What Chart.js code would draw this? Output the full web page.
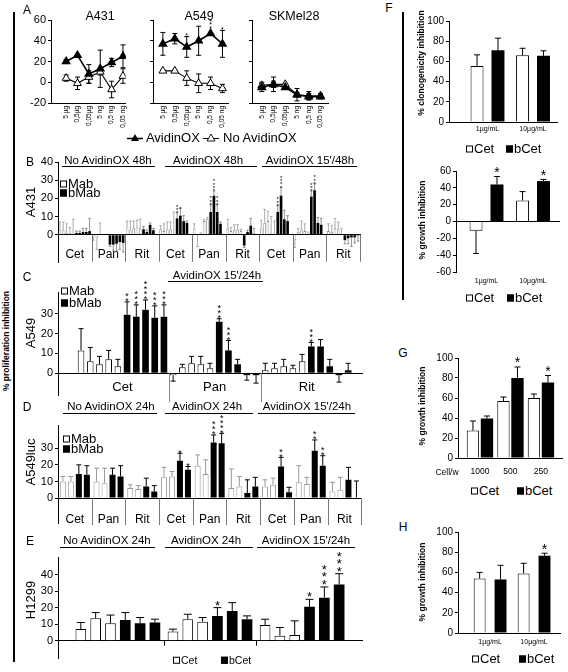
<!DOCTYPE html>
<html><head><meta charset="utf-8">
<script src="https://cdn.jsdelivr.net/npm/chart.js@4.4.1/dist/chart.umd.min.js"></script>
<style>
html,body{margin:0;padding:0;background:#fff;}
#root{position:relative;width:568px;height:672px;overflow:hidden;font-family:"Liberation Sans",Arial,sans-serif;color:#000;background:#fff;}
canvas{position:absolute;}
.t{position:absolute;white-space:nowrap;line-height:1;}
.ln{position:absolute;background:#000;}
.bx{display:inline-block;width:7px;height:7px;border:1px solid #000;background:#fff;box-sizing:border-box;margin-right:1px;}
.bx.k{background:#000;}
</style></head><body><div id="root"></div>
<script>
// ---------------- DATA ----------------
// Panel A
const A_doses = ['5 µg','0,5µg','0,05µg','5 ng','0,5 ng','0,05 ng'];
const A_titles = ['A431','A549','SKMel28'];
const A431_avi = [20, 26, 8, 13, 19, 25];
const A431_aviErr = [2, 1, 9, 18, 4, 11];
const A431_no = [4, -1, 5, 10, -7, 6];
const A431_noErr = [3, 6, 6, 3, 8, 7];
const A549_avi = [37, 42, 34, 40, 47, 37];
const A549_aviErr = [11, 5, 10, 14, 1, 13];
const A549_aviStars = [0, 0, 1, 0, 4, 1];
const A549_no = [11, 11, 4, -1, -1, -6];
const A549_noErr = [1, 1, 7, 9, 6, 4];
const SK_avi = [-5, -2, -5, -12, -14, -14];
const SK_aviErr = [4, 7, 1, 6, 3, 2];
const SK_no = [-3, -2, -2, -12, -13, -13];
const SK_noErr = [3, 3, 1, 2, 4, 2];

// Panel B (A431, 48h) : 9 groups x (5 Mab + 5 bMab)
const B_heads = ['No AvidinOX 48h', 'AvidinOX 48h', "AvidinOX 15'/48h"];
const B_cats = ['Cet','Pan','Rit','Cet','Pan','Rit','Cet','Pan','Rit'];
const B_mab = [[2.5,2.5,1,1,0.5],[-1,-2,0.5,0.2,0.2],[4,2.5,3.5,4,3.5],[3,2,3,3,0.5],[3,-0.5,0.5,7.5,8.5],[3.5,2,2.5,3,2],[4,6.5,7.5,1,0.5],[-3,1.5,2.5,2,0.5],[2,1.5,3.5,3,0.5]];
const B_mabErr = [[4.5,4.5,5,3,8],[2,6,6,0,0],[3.5,5,4,4,5],[2,4,4,4,12],[3,6,0.5,1,1],[5,2,3,2.5,1],[4,7.5,5.5,9,7],[4,2,5,4,1],[4,3.5,5.5,4,3]];
const B_bmab = [[1,1,1.5,1.5,2],[-5.5,-5.5,-5,-4,-4.5],[3,1.5,5.5,2.5,null],[9,10.5,7.5,6.5,null],[12.5,21.5,12.5,6,null],[-6,1.5,5,0.5,null],[12.5,21.5,8.5,7.5,null],[21,24.5,6.5,5.5,null],[-3,-2,-1.5,-1.5,-0.5]];
const B_bmabErr = [[1,1,2,2,7],[1,3,4,4,5],[1.5,1,1,1,0],[3,4,3,1,0],[4,2.5,4,1,0],[1,1,4,3,0],[3.5,4.5,5,3,0],[3,3.5,3,3.5,0],[2,3,5,3,3]];
const B_bmabStars = [[0,0,0,0,0],[0,0,0,0,0],[0,0,0,0,0],[3,1,0,0,0],[3,4,3,0,0],[0,0,0,0,0],[3,4,0,0,0],[3,3,0,0,0],[0,0,0,0,0]];

// Panel C (A549, AvidinOX 15'/24h)
const C_head = "AvidinOX 15'/24h";
const C_groups = ['Cet','Pan','Rit'];
const C_mab = [[11.5,6,4.5,7,3.5],[-1,3,5,4.5,2.5],[1.5,2.5,3.5,2.5,6]];
const C_mabErr = [[11,7,4,4.5,3.5],[3,1.5,3.5,4,2.5],[3.5,2.5,3.5,1.5,3.5]];
const C_bmab = [[29.5,28.5,32,28,28.5],[26,11.5,4.5,-1,-1],[13.5,13.5,3.5,-1,1.5]];
const C_bmabErr = [[6.5,6,5,6,6],[1.5,5,2.5,2.5,4],[2,3.5,3.5,3.5,3.5]];
const C_bmabStars = [[2,3,4,3,3],[3,3,0,0,0],[3,0,0,0,0]];

// Panel D (A549luc, 24h) : 9 groups x (2 Mab + 2 bMab)
const D_heads = ['No AvidinOX 24h', 'AvidinOX 24h', "AvidinOX 15'/24h"];
const D_cats = ['Cet','Pan','Rit','Cet','Pan','Rit','Cet','Pan','Rit'];
const D_mab = [[10,10],[10,9],[6,5.5],[12.5,13],[19.5,14.5],[6,7],[7,8],[9.5,8.5],[4,5]];
const D_mabErr = [[3,3],[8,9],[2,2],[6,3],[6.5,8.5],[11.5,6],[4,4],[10,4],[5.5,7.5]];
const D_bmab = [[14.5,14],[14,13],[7,4],[22.5,17],[33.5,33],[3,7],[19,3.5],[28.5,19.5],[11,0.3]];
const D_bmabErr = [[5.5,5.5],[4,6.5],[5,3.5],[4.5,2],[4.5,6],[8,5.5],[5.5,3],[6.5,6],[7.5,10]];
const D_bmabStars = [[0,0],[0,0],[0,0],[1,1],[3,4],[0,0],[2,0],[2,2],[0,0]];

// Panel E (H1299)
const E_heads = ['No AvidinOX 24h', 'AvidinOX 24h', "AvidinOX 15'/24h"];
const E_cet = [[7,13.5,10.5],[5.5,13,11.5],[9.5,3,3.5]];
const E_cetErr = [[4,3.5,5],[1.5,3,2.5],[3.5,5,8.5]];
const E_bcet = [[12.5,10.5,11],[15,18,13],[20.5,26,34]];
const E_bcetErr = [[4.5,3.5,2],[5,5,2],[4.5,6.5,6.5]];
const E_bcetStars = [[0,0,0],[1,0,0],[1,3,3]];

// Panel F
const F_conc = ['1µg/mL','10µg/mL'];
const F1_cet = [55.5, 66], F1_cetErr = [11, 7];
const F1_bcet = [71, 65.5], F1_bcetErr = [12, 5];
const F2_cet = [-11, 25], F2_cetErr = [27, 10.5];
const F2_bcet = [44, 48], F2_bcetErr = [9.5, 2], F2_bcetStars = [1, 1];
// Panel G
const G_cells = ['1000','500','250'];
const G_cet = [27.5, 57, 60], G_cetErr = [9.5, 4, 4];
const G_bcet = [39.5, 80, 75.5], G_bcetErr = [2.5, 11, 7], G_bcetStars = [0, 1, 1];
// Panel H
const H_conc = ['1µg/mL','10µg/mL'];
const H_cet = [54, 59], H_cetErr = [6, 10];
const H_bcet = [53, 76.5], H_bcetErr = [14, 2.5], H_bcetStars = [0, 1];

// ---------------- HELPERS ----------------
const FONT = '"Liberation Sans", Arial, sans-serif';
Chart.defaults.font.family = FONT;
Chart.defaults.color = '#000';
Chart.defaults.animation = false;
const root = document.getElementById('root');

function cv(L, T, W, H) {
  const c = document.createElement('canvas');
  c.width = W; c.height = H;
  c.style.left = L + 'px'; c.style.top = T + 'px';
  c.style.width = W + 'px'; c.style.height = H + 'px';
  root.appendChild(c); return c;
}
function T(html, x, y, o = {}) {
  const d = document.createElement('div');
  d.className = 't'; d.innerHTML = html;
  d.style.left = x + 'px'; d.style.top = y + 'px';
  d.style.fontSize = (o.size || 12) + 'px';
  if (o.bold) d.style.fontWeight = 'bold';
  const ax = o.anchor === 'left' ? '0' : '-50%';
  d.style.transform = 'translate(' + ax + ',-50%)' + (o.rot ? ' rotate(-90deg)' : '');
  root.appendChild(d); return d;
}
function LN(x, y, w, h, color) {
  const d = document.createElement('div');
  d.className = 'ln';
  d.style.left = x + 'px'; d.style.top = y + 'px'; d.style.width = w + 'px'; d.style.height = h + 'px';
  if (color) d.style.background = color;
  root.appendChild(d);
}

const errPlugin = {
  id: 'errbars',
  beforeDatasetsDraw(chart, a, o) { if (o.before) drawErr(chart, o); },
  afterDatasetsDraw(chart, a, o) { if (!o.before) drawErr(chart, o); drawStars(chart, o); }
};
function val(d) { return (d !== null && typeof d === 'object') ? d.y : d; }
function drawErr(chart, o) {
  const ctx = chart.ctx, ys = chart.scales.y;
  chart.data.datasets.forEach((ds, di) => {
    if (!ds.errors) return;
    const meta = chart.getDatasetMeta(di);
    ctx.save();
    ctx.strokeStyle = ds.errColor || '#000';
    ctx.lineWidth = o.lw || 1;
    meta.data.forEach((el, i) => {
      const v = val(ds.data[i]); const e = ds.errors[i];
      if (v == null || !e) return;
      const x = el.x, p0 = ys.getPixelForValue(v);
      const ends = ds.errBoth ? [v + e, v - e] : [v < 0 ? v - e : v + e];
      ends.forEach(t => {
        const p = ys.getPixelForValue(t);
        ctx.beginPath();
        ctx.moveTo(x, p0); ctx.lineTo(x, p);
        ctx.moveTo(x - o.cap, p); ctx.lineTo(x + o.cap, p);
        ctx.stroke();
      });
    });
    ctx.restore();
  });
}
function drawStars(chart, o) {
  const ctx = chart.ctx, ys = chart.scales.y;
  chart.data.datasets.forEach((ds, di) => {
    if (!ds.stars) return;
    const meta = chart.getDatasetMeta(di);
    ctx.save();
    ctx.fillStyle = '#000';
    ctx.font = (o.starSize || 10) + 'px ' + FONT;
    ctx.textAlign = 'center'; ctx.textBaseline = 'alphabetic';
    meta.data.forEach((el, i) => {
      const n = ds.stars[i]; const v = val(ds.data[i]);
      if (!n || v == null) return;
      const e = (ds.errors && ds.errors[i]) || 0;
      const top = ys.getPixelForValue(Math.max(v, 0) + (v >= 0 ? e : 0));
      for (let k = 0; k < n; k++) {
        const cy = top - o.starGap - o.starSize * 0.2 - k * o.starStep;
        ctx.fillText('*', el.x, cy + o.starSize * 0.58);
      }
    });
    ctx.restore();
  });
}
const decorPlugin = {
  id: 'decor',
  afterDraw(chart, a, o) {
    const ctx = chart.ctx, xs = chart.scales.x, ys = chart.scales.y;
    const y0 = ys.getPixelForValue(0);
    ctx.save();
    ctx.strokeStyle = o.divColor || '#000'; ctx.lineWidth = 1;
    (o.dividers || []).forEach(v => {
      const x = Math.round(xs.getPixelForValue(v)) + 0.5;
      ctx.beginPath(); ctx.moveTo(x, y0); ctx.lineTo(x, y0 + o.divLen); ctx.stroke();
    });
    ctx.fillStyle = '#000';
    ctx.font = (o.labelSize || 12) + 'px ' + FONT;
    ctx.textAlign = 'center'; ctx.textBaseline = 'middle';
    (o.groupLabels || []).forEach(g => ctx.fillText(g.text, xs.getPixelForValue(g.at), y0 + o.labelOffset));
    ctx.restore();
  }
};

function yScale(min, max, step, width, size, show = true, zeroLine = false) {
  return {
    type: 'linear', position: 'left', min, max,
    afterFit: s => { s.width = width; },
    afterBuildTicks: s => { s.ticks = s.ticks.filter(t => Math.abs(t.value / step - Math.round(t.value / step)) < 1e-6); },
    ticks: { stepSize: step, display: show, font: { size }, padding: 2, color: '#000' },
    grid: { drawOnChartArea: zeroLine, drawTicks: true, tickLength: 3, tickColor: '#000',
            color: zeroLine ? (c => (c.tick && c.tick.value === 0) ? '#000' : 'rgba(0,0,0,0)') : '#000' },
    border: { display: true, color: '#000', width: 1 }
  };
}
function xCatZero(size, padding, show) {
  return {
    type: 'category', position: { y: 0 }, offset: true,
    afterFit: s => { s.height = 0; },
    ticks: { display: show, font: { size }, padding, autoSkip: false, maxRotation: 0, color: '#000' },
    grid: { display: true, drawOnChartArea: false, drawTicks: false },
    border: { display: true, color: '#000', width: 1 }
  };
}
function xGroups(cats, min, max, h, size, padding, border = true) {
  return {
    type: 'linear', min, max, offset: false,
    afterFit: s => { s.height = h; },
    afterBuildTicks: s => { s.ticks = cats.map((_, i) => ({ value: i + 1 })); },
    ticks: { callback: v => cats[v - 1], font: { size }, padding, autoSkip: false, maxRotation: 0, color: '#000' },
    grid: { display: true, offset: false, drawOnChartArea: false, drawTicks: false },
    border: { display: border, color: '#000', width: 1 }
  };
}
const base = (pad) => ({ responsive: false, animation: false, devicePixelRatio: 1, layout: { padding: pad } });
const noLeg = { legend: { display: false }, tooltip: { enabled: false } };

// ---------------- PANEL A ----------------
function lineA(L, W, yw, xmin, xmax, avi, aviErr, aviStars, no, noErr, showY) {
  new Chart(cv(L, 8, W, 132), {
    type: 'line',
    data: { datasets: [
      { label: 'AvidinOX', data: avi.map((v, i) => ({ x: i, y: v })), errors: aviErr, errBoth: true, stars: aviStars,
        borderColor: '#000', borderWidth: 1.6, pointStyle: 'triangle', pointRadius: 4, pointBackgroundColor: '#000', pointBorderColor: '#000' },
      { label: 'No AvidinOX', data: no.map((v, i) => ({ x: i, y: v })), errors: noErr, errBoth: true,
        borderColor: '#000', borderWidth: 1.1, pointStyle: 'triangle', pointRadius: 4.5, pointBackgroundColor: '#fff', pointBorderColor: '#000', pointBorderWidth: 1 }
    ]},
    options: Object.assign(base({ top: 12, right: 4, bottom: 0, left: 0 }), {
      scales: {
        x: { type: 'linear', min: xmin, max: xmax, offset: false, afterFit: s => { s.height = 37; },
             afterBuildTicks: s => { s.ticks = A_doses.map((_, i) => ({ value: i })); },
             ticks: { callback: v => A_doses[v], font: { size: 6.5 }, maxRotation: 90, minRotation: 90, padding: 3, autoSkip: false, color: '#000' },
             grid: { display: true, drawOnChartArea: false, drawTicks: false }, border: { color: '#000' } },
        y: yScale(-20, 60, 20, yw, 11, showY)
      },
      plugins: Object.assign({ errbars: { cap: 2.5, lw: 1, before: true, starSize: 7, starStep: 3.5, starGap: 1 } }, noLeg)
    }),
    plugins: [errPlugin]
  });
}
lineA(28, 106, 23, -1.33, 5.25, A431_avi, A431_aviErr, null, A431_no, A431_noErr, true);
lineA(140, 94, 13, -0.83, 5.5, A549_avi, A549_aviErr, A549_aviStars, A549_no, A549_noErr, false);
lineA(239, 95, 13, -0.83, 5.67, SK_avi, SK_aviErr, null, SK_no, SK_noErr, false);

// ---------------- PANEL B ----------------
(function () {
  const ds = [];
  for (let k = 0; k < 5; k++) ds.push({ data: B_mab.map(g => g[k]), errors: B_mabErr.map(g => g[k]),
    backgroundColor: '#fff', borderColor: '#888', borderWidth: 0.8, errColor: '#999' });
  for (let k = 0; k < 5; k++) ds.push({ data: B_bmab.map(g => g[k]), errors: B_bmabErr.map(g => g[k]), stars: B_bmabStars.map(g => g[k]),
    backgroundColor: '#000', borderColor: '#000', borderWidth: 0, errColor: '#777' });
  new Chart(cv(18, 150, 346, 122), {
    type: 'bar',
    data: { labels: B_cats, datasets: ds },
    options: Object.assign(base({ top: 12, right: 4, bottom: 10, left: 0 }), {
      datasets: { bar: { categoryPercentage: 0.98, barPercentage: 0.8 } },
      scales: { x: xCatZero(12, 13, true), y: yScale(-15, 40, 10, 40, 11) },
      plugins: Object.assign({ errbars: { cap: 1.3, lw: 0.8, starSize: 6, starStep: 3.3, starGap: 0 },
        decor: { dividers: B_cats.map((_, i) => i + 0.5), divLen: 27, divColor: '#777' } }, noLeg)
    }),
    plugins: [errPlugin, decorPlugin]
  });
})();

// ---------------- PANEL C ----------------
(function () {
  const lead = [2, 0, 0], trail = [0, 0, 1];
  const m = [], me = [], b = [], be = [], bs = [], labels = [], groups = [], divs = [];
  const pushEmpty = () => { m.push(null); me.push(0); b.push(null); be.push(0); bs.push(0); };
  C_groups.forEach((g, gi) => {
    for (let i = 0; i < lead[gi]; i++) pushEmpty();
    const start = m.length;
    C_mab[gi].forEach((v, i) => { m.push(v); me.push(C_mabErr[gi][i]); b.push(null); be.push(0); bs.push(0); });
    C_bmab[gi].forEach((v, i) => { m.push(null); me.push(0); b.push(v); be.push(C_bmabErr[gi][i]); bs.push(C_bmabStars[gi][i]); });
    groups.push({ text: g, at: (start + m.length - 1) / 2 });
    for (let i = 0; i < trail[gi]; i++) pushEmpty();
    if (gi < C_groups.length - 1) divs.push(m.length - 0.5);
  });
  m.forEach(() => labels.push(''));
  new Chart(cv(18, 280, 348, 130), {
    type: 'bar',
    data: { labels, datasets: [
      { data: m, errors: me, grouped: false, backgroundColor: '#fff', borderColor: '#000', borderWidth: 1 },
      { data: b, errors: be, stars: bs, grouped: false, backgroundColor: '#000', borderColor: '#000', borderWidth: 0 }
    ]},
    options: Object.assign(base({ top: 12, right: 4, bottom: 15, left: 0 }), {
      datasets: { bar: { categoryPercentage: 1, barPercentage: 0.72 } },
      scales: { x: xCatZero(12, 10, false), y: yScale(-11, 41, 10, 40, 11) },
      plugins: Object.assign({ errbars: { cap: 2.5, lw: 1, starSize: 9, starStep: 5, starGap: 1 },
        decor: { dividers: divs, divLen: 29, divColor: '#888', groupLabels: groups, labelOffset: 14, labelSize: 13 } }, noLeg)
    }),
    plugins: [errPlugin, decorPlugin]
  });
})();

// ---------------- PANEL D ----------------
(function () {
  const ds = [];
  for (let k = 0; k < 2; k++) ds.push({ data: D_mab.map(g => g[k]), errors: D_mabErr.map(g => g[k]),
    backgroundColor: '#fff', borderColor: '#999', borderWidth: 1, errColor: '#999' });
  for (let k = 0; k < 2; k++) ds.push({ data: D_bmab.map(g => g[k]), errors: D_bmabErr.map(g => g[k]), stars: D_bmabStars.map(g => g[k]),
    backgroundColor: '#000', borderColor: '#000', borderWidth: 0, errColor: '#000' });
  new Chart(cv(18, 413, 348, 120), {
    type: 'bar',
    data: { labels: D_cats, datasets: ds },
    options: Object.assign(base({ top: 12, right: 4, bottom: 10, left: 0 }), {
      datasets: { bar: { categoryPercentage: 0.95, barPercentage: 0.75 } },
      scales: { x: xCatZero(12, 14, true), y: yScale(-15, 44, 10, 40, 11) },
      plugins: Object.assign({ errbars: { cap: 2.5, lw: 1, starSize: 9, starStep: 5, starGap: 1 },
        decor: { dividers: D_cats.map((_, i) => i + 0.5), divLen: 27, divColor: '#777' } }, noLeg)
    }),
    plugins: [errPlugin, decorPlugin]
  });
})();

// ---------------- PANEL E ----------------
(function () {
  const ds = [];
  for (let k = 0; k < 3; k++) ds.push({ data: E_cet.map((g, gi) => ({ x: gi + 1, y: g[k] })), errors: E_cetErr.map(g => g[k]),
    backgroundColor: '#fff', borderColor: '#000', borderWidth: 1 });
  for (let k = 0; k < 3; k++) ds.push({ data: E_bcet.map((g, gi) => ({ x: gi + 1, y: g[k] })), errors: E_bcetErr.map(g => g[k]), stars: E_bcetStars.map(g => g[k]),
    backgroundColor: '#000', borderColor: '#000', borderWidth: 0 });
  const xs = xGroups(E_heads, 0.35, 3.65, 0, 10, 0);
  xs.position = { y: 0 }; xs.ticks.display = false;
  new Chart(cv(18, 545, 348, 122), {
    type: 'bar',
    data: { datasets: ds },
    options: Object.assign(base({ top: 12, right: 4, bottom: 7, left: 0 }), {
      datasets: { bar: { categoryPercentage: 0.965, barPercentage: 0.72 } },
      scales: { x: xs, y: yScale(-10.7, 50.6, 10, 40, 11) },
      plugins: Object.assign({ errbars: { cap: 4, lw: 1, starSize: 13, starStep: 7.5, starGap: 3 },
        decor: { dividers: [1.5, 2.5], divLen: 5, divColor: '#000' } }, noLeg)
    }),
    plugins: [errPlugin, decorPlugin]
  });
})();

// ---------------- PANELS F, G, H ----------------
function pair(L, T, W, H, pad, yw, ymin, ymax, cats, xmin, xmax, xh, xsize, xpad, cet, cetErr, bcet, bcetErr, bStars, cp, bp, zero) {
  const xs = xGroups(cats, xmin, xmax, xh, xsize, xpad, !zero);
  new Chart(cv(L, T, W, H), {
    type: 'bar',
    data: { datasets: [
      { label: 'Cet', data: cet.map((v, i) => ({ x: i + 1, y: v })), errors: cetErr, backgroundColor: '#fff', borderColor: '#000', borderWidth: 1 },
      { label: 'bCet', data: bcet.map((v, i) => ({ x: i + 1, y: v })), errors: bcetErr, stars: bStars, backgroundColor: '#000', borderColor: '#000', borderWidth: 0 }
    ]},
    options: Object.assign(base(pad), {
      datasets: { bar: { categoryPercentage: cp, barPercentage: bp } },
      scales: { x: xs, y: yScale(ymin, ymax, 20, yw, 10, true, zero) },
      plugins: Object.assign({ errbars: { cap: 3, lw: 1, starSize: 14, starStep: 8, starGap: 5 } }, noLeg)
    }),
    plugins: [errPlugin]
  });
}
pair(425, 10, 138, 130, { top: 11, right: 6, bottom: 0, left: 0 }, 24, 0, 100, F_conc, 0.154, 2.527, 18, 7, 3,
     F1_cet, F1_cetErr, F1_bcet, F1_bcetErr, null, 0.92, 0.62, false);
pair(428, 160, 138, 132, { top: 11, right: 6, bottom: 0, left: 0 }, 28, -60, 60, F_conc, 0.344, 2.58, 20, 7, 5,
     F2_cet, F2_cetErr, F2_bcet, F2_bcetErr, F2_bcetStars, 0.9, 0.62, true);
pair(428, 346, 138, 136, { top: 12, right: 4, bottom: 0, left: 0 }, 30, 0, 100, G_cells, 0.28, 3.69, 24, 8.5, 9,
     G_cet, G_cetErr, G_bcet, G_bcetErr, G_bcetStars, 0.92, 0.88, false);
pair(428, 520, 138, 133, { top: 12, right: 6, bottom: 0, left: 0 }, 30, 0, 100, H_conc, 0.27, 2.59, 20, 7, 5,
     H_cet, H_cetErr, H_bcet, H_bcetErr, H_bcetStars, 0.95, 0.57, false);

// ---------------- TEXT & DECOR ----------------
LN(13, 12, 1.5, 650);
LN(402, 12, 1.5, 288);
T('% proliferation inhibition', 6, 341, { size: 8.5, bold: true, rot: true });

// Panel letters
[['A', 27, 10], ['B', 30, 162], ['C', 27, 277], ['D', 27, 407], ['E', 30, 541], ['F', 389, 8], ['G', 403, 353], ['H', 403, 527]]
  .forEach(p => T(p[0], p[1], p[2], { size: 12 }));

// Panel A titles & legend
[[100, 16], [199, 16], [294, 16]].forEach((p, i) => T(A_titles[i], p[0], p[1], { size: 12.5 }));
const triF = '<svg width="16" height="10" style="vertical-align:-1px"><line x1="0" y1="6" x2="16" y2="6" stroke="#000" stroke-width="1.5"/><polygon points="8,1.5 12,8.5 4,8.5" fill="#000"/></svg>';
const triO = '<svg width="16" height="10" style="vertical-align:-1px"><line x1="0" y1="6" x2="16" y2="6" stroke="#000" stroke-width="1"/><polygon points="8,1.5 12,8.5 4,8.5" fill="#fff" stroke="#000" stroke-width="0.9"/></svg>';
T(triF + ' AvidinOX ' + triO + ' No AvidinOX', 127, 137, { size: 13, anchor: 'left' });

// Headers with underline
function heads(arr, centers, ty, uy, spans) {
  arr.forEach((h, i) => {
    T(h, centers[i], ty, { size: 11.5 });
    LN(spans[i][0], uy, spans[i][1] - spans[i][0], 1);
  });
}
heads(B_heads, [108, 208, 310], 161, 166, [[62, 155], [165, 257], [262, 357]]);
heads([C_head], [217], 276, 281, [[168, 263]]);
heads(D_heads, [111, 207, 307], 407, 413, [[63, 157], [165, 253], [258, 355]]);
heads(E_heads, [107, 206, 306], 541, 547, [[60, 155], [165, 253], [257, 355]]);

// Y axis titles (left column)
T('A431', 30, 202, { size: 13, rot: true });
T('A549', 30, 333, { size: 13, rot: true });
T('A549luc', 30, 462, { size: 13, rot: true });
T('H1299', 30, 600, { size: 13, rot: true });

// Mab / bMab legends
[[60, 183, 192], [61, 290, 302], [63, 438, 448]].forEach(p => {
  T('<span class="bx"></span>Mab', p[0], p[1], { size: 13, anchor: 'left' });
  T('<span class="bx k"></span>bMab', p[0], p[2], { size: 13, anchor: 'left' });
});

// Cet / bCet legends
function cetLeg(x1, x2, y, size) {
  T('<span class="bx"></span>Cet', x1, y, { size, anchor: 'left' });
  T('<span class="bx k"></span>bCet', x2, y, { size, anchor: 'left' });
}
cetLeg(173, 221, 660, 10.5);
cetLeg(466, 506, 148, 13);
cetLeg(466, 507, 297, 13);
cetLeg(471, 517, 490, 13);
cetLeg(472, 519, 658, 13);

// Right column y titles
T('% clonogenicity inhibition', 421, 63, { size: 8.5, bold: true, rot: true });
T('% growth inhibition', 422, 220, { size: 8.5, bold: true, rot: true });
T('% growth inhibition', 422, 406, { size: 8.5, bold: true, rot: true });
T('% growth inhibition', 422, 582, { size: 8.5, bold: true, rot: true });
T('Cell/w', 447, 472, { size: 8.5 });
</script></body></html>
